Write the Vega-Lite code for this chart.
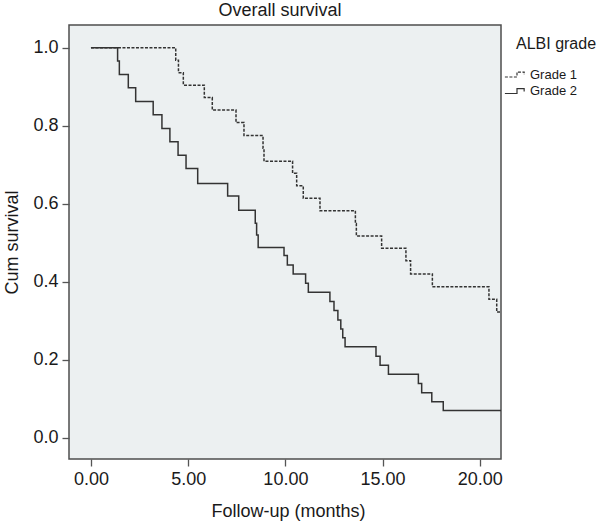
{
  "$schema": "https://vega.github.io/schema/vega-lite/v6.json",
  "width": 432,
  "height": 434,
  "autosize": {"type": "none"},
  "padding": {"left": 69, "top": 25, "right": 98, "bottom": 63},
  "background": "white",
  "title": {"text": "Overall survival", "font": "Liberation Sans", "fontSize": 18, "fontWeight": "normal", "color": "#1a1a1a", "baseline": "bottom", "frame": "group", "anchor": "middle", "offset": 4, "dx": -5, "dy": 17},
  "config": {
    "view": {"stroke": "#4d4d4d", "strokeWidth": 1.5, "fill": "#ECF0F1"},
    "axis": {"grid": false, "domain": false, "tickColor": "#555555", "tickWidth": 1.3, "tickSize": 7, "labelFont": "Liberation Sans", "labelFontSize": 18, "labelColor": "#1a1a1a", "titleFont": "Liberation Sans", "titleFontSize": 18, "titleFontWeight": "normal", "titleColor": "#1a1a1a", "labelFlush": false}
  },
  "data": {"values": [
    {"group": "Grade 1", "t": 0, "s": 1.0},
    {"group": "Grade 1", "t": 4.36, "s": 0.968},
    {"group": "Grade 1", "t": 4.5, "s": 0.936},
    {"group": "Grade 1", "t": 4.75, "s": 0.904},
    {"group": "Grade 1", "t": 5.83, "s": 0.872},
    {"group": "Grade 1", "t": 6.24, "s": 0.840},
    {"group": "Grade 1", "t": 7.46, "s": 0.808},
    {"group": "Grade 1", "t": 7.87, "s": 0.775},
    {"group": "Grade 1", "t": 8.85, "s": 0.742},
    {"group": "Grade 1", "t": 8.9, "s": 0.709},
    {"group": "Grade 1", "t": 10.37, "s": 0.678},
    {"group": "Grade 1", "t": 10.58, "s": 0.646},
    {"group": "Grade 1", "t": 10.92, "s": 0.614},
    {"group": "Grade 1", "t": 11.78, "s": 0.582},
    {"group": "Grade 1", "t": 13.6, "s": 0.549},
    {"group": "Grade 1", "t": 13.65, "s": 0.517},
    {"group": "Grade 1", "t": 14.95, "s": 0.486},
    {"group": "Grade 1", "t": 16.2, "s": 0.454},
    {"group": "Grade 1", "t": 16.44, "s": 0.420},
    {"group": "Grade 1", "t": 17.56, "s": 0.387},
    {"group": "Grade 1", "t": 20.47, "s": 0.355},
    {"group": "Grade 1", "t": 20.87, "s": 0.322},
    {"group": "Grade 1", "t": 21.09, "s": 0.322},
    {"group": "Grade 2", "t": 0, "s": 1.0},
    {"group": "Grade 2", "t": 1.37, "s": 0.966},
    {"group": "Grade 2", "t": 1.46, "s": 0.931},
    {"group": "Grade 2", "t": 1.92, "s": 0.897},
    {"group": "Grade 2", "t": 2.3, "s": 0.862},
    {"group": "Grade 2", "t": 3.2, "s": 0.828},
    {"group": "Grade 2", "t": 3.65, "s": 0.793},
    {"group": "Grade 2", "t": 4.06, "s": 0.759},
    {"group": "Grade 2", "t": 4.48, "s": 0.724},
    {"group": "Grade 2", "t": 4.89, "s": 0.690},
    {"group": "Grade 2", "t": 5.49, "s": 0.652},
    {"group": "Grade 2", "t": 7.03, "s": 0.620},
    {"group": "Grade 2", "t": 7.6, "s": 0.583},
    {"group": "Grade 2", "t": 8.45, "s": 0.550},
    {"group": "Grade 2", "t": 8.52, "s": 0.520},
    {"group": "Grade 2", "t": 8.6, "s": 0.488},
    {"group": "Grade 2", "t": 9.93, "s": 0.467},
    {"group": "Grade 2", "t": 10.1, "s": 0.443},
    {"group": "Grade 2", "t": 10.4, "s": 0.420},
    {"group": "Grade 2", "t": 11.04, "s": 0.396},
    {"group": "Grade 2", "t": 11.18, "s": 0.373},
    {"group": "Grade 2", "t": 12.29, "s": 0.349},
    {"group": "Grade 2", "t": 12.5, "s": 0.326},
    {"group": "Grade 2", "t": 12.7, "s": 0.302},
    {"group": "Grade 2", "t": 12.85, "s": 0.279},
    {"group": "Grade 2", "t": 12.95, "s": 0.256},
    {"group": "Grade 2", "t": 13.07, "s": 0.233},
    {"group": "Grade 2", "t": 14.66, "s": 0.209},
    {"group": "Grade 2", "t": 14.87, "s": 0.186},
    {"group": "Grade 2", "t": 15.3, "s": 0.163},
    {"group": "Grade 2", "t": 16.84, "s": 0.139},
    {"group": "Grade 2", "t": 17.01, "s": 0.115},
    {"group": "Grade 2", "t": 17.53, "s": 0.092},
    {"group": "Grade 2", "t": 18.12, "s": 0.070},
    {"group": "Grade 2", "t": 21.09, "s": 0.070}
  ]},
  "mark": {"type": "line", "interpolate": "step-after", "color": "#333333", "strokeWidth": 1.5},
  "encoding": {
    "x": {"field": "t", "type": "quantitative", "scale": {"domain": [-1.13, 21.09], "nice": false, "zero": false},
      "axis": {"title": "Follow-up (months)", "values": [0, 5, 10, 15, 20], "format": ".2f", "labelPadding": 4, "titleBaseline": "alphabetic", "titleY": 57, "titleX": 219}},
    "y": {"field": "s", "type": "quantitative", "scale": {"domain": [-0.0546, 1.0582], "nice": false, "zero": false},
      "axis": {"title": "Cum survival", "values": [0, 0.2, 0.4, 0.6, 0.8, 1.0], "format": ".1f", "labelPadding": 4, "titleBaseline": "alphabetic", "titleAngle": -90, "titleX": -52, "titleY": 217, "titleAlign": "center"}},
    "strokeDash": {"field": "group", "type": "nominal", "scale": {"domain": ["Grade 1", "Grade 2"], "range": [[3, 1.5], [1, 0]]},
      "legend": {"title": "ALBI grade", "orient": "none", "legendX": 447, "legendY": 11, "padding": 0, "titleFont": "Liberation Sans", "titleFontSize": 16, "titleFontWeight": "normal", "titleColor": "#1a1a1a", "titlePadding": 16, "labelFont": "Liberation Sans", "labelFontSize": 13, "labelColor": "#1a1a1a", "labelOffset": 1, "rowPadding": 2.5, "symbolType": "M-3.2,0.45H-1V-0.45H0.3V0.1", "symbolSize": 121, "symbolStrokeColor": "#333333", "symbolFillColor": "transparent", "symbolStrokeWidth": 1.2}}
  }
}
